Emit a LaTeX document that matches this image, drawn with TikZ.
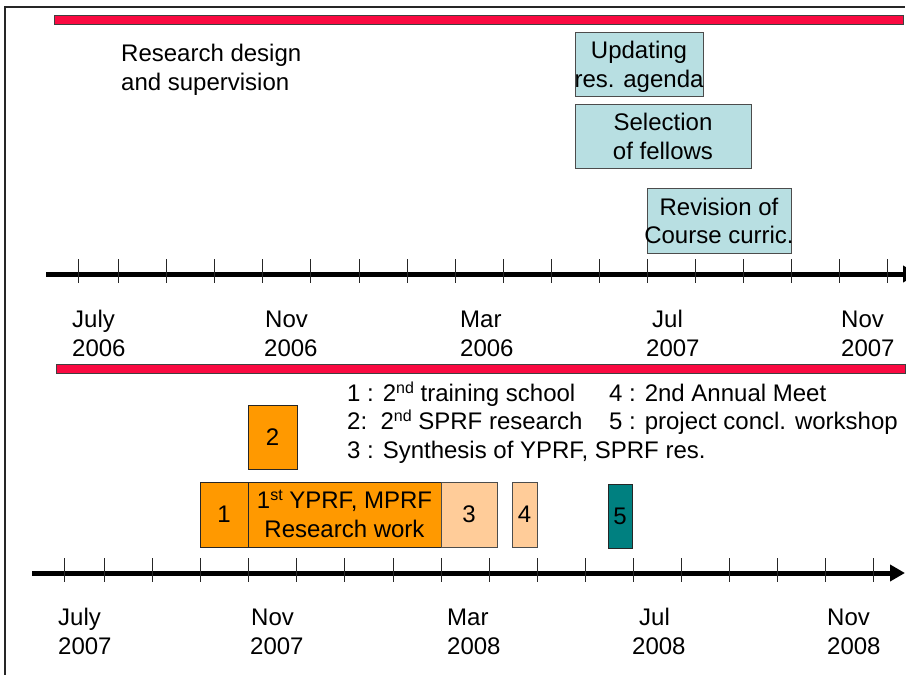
\documentclass[tikz,border=0pt]{standalone}
\usepackage{fontspec}
\setmainfont{Liberation Sans}
\usetikzlibrary{arrows.meta}
\definecolor{barred}{RGB}{250,10,65}
\definecolor{boxblue}{RGB}{184,223,226}
\definecolor{orangefill}{RGB}{255,153,0}
\definecolor{peach}{RGB}{255,204,153}
\definecolor{tealfill}{RGB}{0,128,128}
\newcommand{\mysup}[1]{\raisebox{8pt}{\fontsize{16}{16}\selectfont #1}}
\begin{document}
\begin{tikzpicture}[x=1pt,y=-1pt,
  txt/.style={font=\fontsize{24}{29}\selectfont, inner sep=0pt, anchor=base west},
  ctxt/.style={font=\fontsize{24}{29}\selectfont, inner sep=0pt, anchor=base},
  redbar/.style={draw=black!75, line width=1pt, fill=barred, inner sep=0pt},
  bluebox/.style={draw=black!70, line width=0.8pt, fill=boxblue, inner sep=0pt},
  orbox/.style={draw=black!85, line width=0.8pt, fill=orangefill, inner sep=0pt, font=\fontsize{24}{29}\selectfont},
  pbox/.style={draw=black!70, line width=0.8pt, fill=peach, inner sep=0pt, font=\fontsize{24}{29}\selectfont},
  tbox/.style={draw=black!85, line width=0.8pt, fill=tealfill, inner sep=0pt, font=\fontsize{24}{29}\selectfont},
  axisline/.style={line width=5pt, black},
  tickline/.style={line width=0.8pt, black!85},
  frameline/.style={line width=1.2pt, black!85}
]
\useasboundingbox (0,0) rectangle (906,675);
\clip (0,0) rectangle (906,675);
\fill[white] (0,0) rectangle (906,675);

% frame
\coordinate (fbl) at (5,675);
\coordinate (ftl) at (5,7);
\coordinate (ftr) at (905,7);
\draw[frameline] (fbl) -- (ftl) -- (ftr);

% red bars
\node[redbar, minimum width=849pt, minimum height=9pt] (bar1) at (478.5,19.5) {};
\node[redbar, minimum width=849pt, minimum height=9pt] (bar2) at (480.5,368.5) {};

% upper section text
\node[txt] (rd1) at (121,61) {Research design};
\node[txt] (rd2) at (121,90) {and supervision};

% blue boxes
\node[bluebox, minimum width=128pt, minimum height=64pt] (upd) at (639,64) {};
\node[ctxt] (upd1) at (639,58) {Updating};
\node[ctxt] (upd2) at (639,87) {res. agenda};
\node[bluebox, minimum width=176pt, minimum height=64pt] (sel) at (663,136) {};
\node[ctxt] (sel1) at (663,130) {Selection};
\node[ctxt] (sel2) at (663,159) {of fellows};
\node[bluebox, minimum width=144pt, minimum height=65pt] (rev) at (719,220.5) {};
\node[ctxt] (rev1) at (719,215) {Revision of};
\node[ctxt] (rev2) at (719,243) {Course curric.};

% upper axis
\coordinate (a1s) at (46,274);
\coordinate (a1e) at (918,274);
\draw[axisline, -{Triangle[length=15pt,width=16pt]}] (a1s) -- (a1e);
\foreach \x in {78,118,166,214,262,310,359,407,455,503,551,599,647,695,743,791,839,887}
  \draw[tickline] (\x,259) -- (\x,283);

% upper axis labels
\node[txt] (u1a) at (72,327) {July};
\node[txt] (u1b) at (72,356) {2006};
\node[txt] (u2a) at (265,327) {Nov};
\node[txt] (u2b) at (264,356) {2006};
\node[txt] (u3a) at (460,327) {Mar};
\node[txt] (u3b) at (460,356) {2006};
\node[txt] (u4a) at (652,327) {Jul};
\node[txt] (u4b) at (646,356) {2007};
\node[txt] (u5a) at (841,327) {Nov};
\node[txt] (u5b) at (841,356) {2007};

% legend
\node[txt] (lg1) at (347,401) {1 : 2\mysup{nd} training school};
\node[txt] (lg2) at (347,429) {2:~~2\mysup{nd} SPRF research};
\node[txt] (lg3) at (347,458) {3 : Synthesis of YPRF, SPRF res.};
\node[txt] (lg4) at (609,401) {4 : 2nd Annual Meet};
\node[txt] (lg5) at (609,429) {5 : project concl. workshop};

% lower boxes
\node[orbox, minimum width=49pt, minimum height=64pt] (b2) at (272.5,437) {2};
\node[orbox, minimum width=48pt, minimum height=65pt] (b1) at (224,514.5) {1};
\node[orbox, minimum width=193pt, minimum height=65pt] (by) at (344.5,514.5) {};
\node[ctxt] (by1) at (344.5,508) {1\mysup{st} YPRF, MPRF};
\node[ctxt] (by2) at (344.5,537) {Research work};
\node[pbox, minimum width=56pt, minimum height=65pt] (b3) at (469,514.5) {3};
\node[pbox, minimum width=25pt, minimum height=65pt] (b4) at (524.5,514.5) {4};
\node[tbox, minimum width=24pt, minimum height=64pt] (b5) at (620,516) {5};

% lower axis
\coordinate (a2s) at (32,573);
\coordinate (a2e) at (905,573);
\draw[axisline, -{Triangle[length=15pt,width=16pt]}] (a2s) -- (a2e);
\foreach \x in {64,104,152,200,248,296,344,393,441,489,537,585,633,681,729,777,825,873}
  \draw[tickline] (\x,558) -- (\x,582);

% lower axis labels
\node[txt] (l1a) at (58,625) {July};
\node[txt] (l1b) at (58,654) {2007};
\node[txt] (l2a) at (251,625) {Nov};
\node[txt] (l2b) at (250,654) {2007};
\node[txt] (l3a) at (447,625) {Mar};
\node[txt] (l3b) at (447,654) {2008};
\node[txt] (l4a) at (639,625) {Jul};
\node[txt] (l4b) at (632,654) {2008};
\node[txt] (l5a) at (827,625) {Nov};
\node[txt] (l5b) at (827,654) {2008};
\end{tikzpicture}
\end{document}
